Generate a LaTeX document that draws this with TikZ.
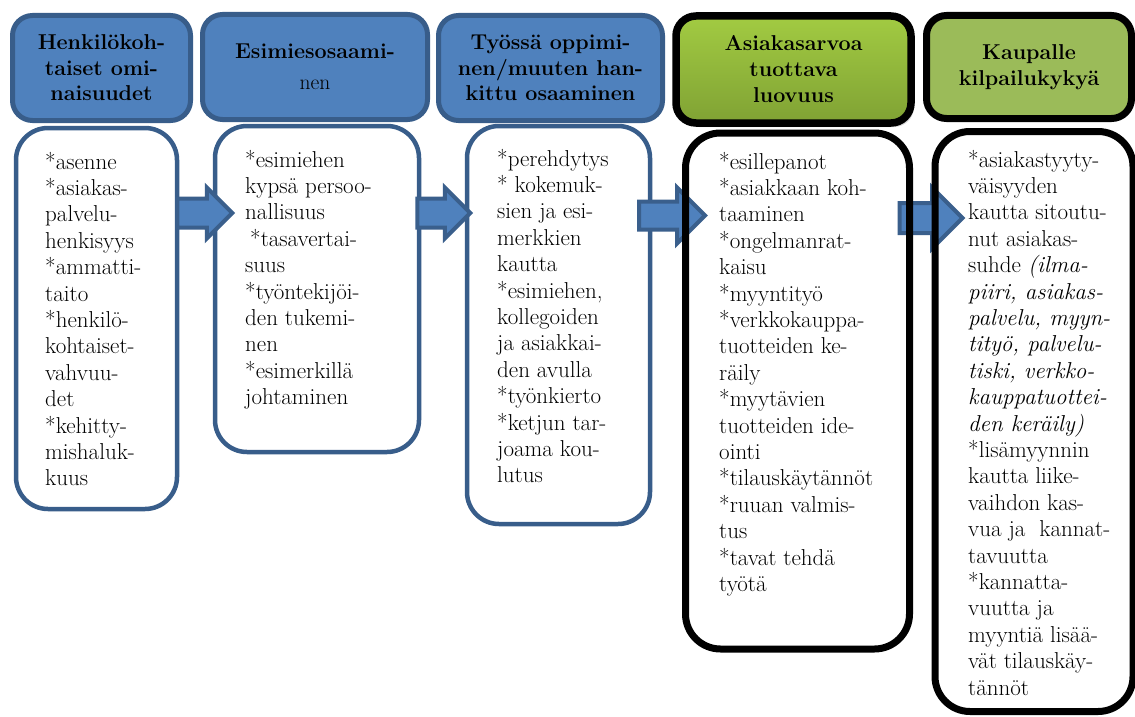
\documentclass[tikz,border=0pt]{standalone}
\usepackage{fontspec}
\usepackage{tikz}
\usetikzlibrary{shapes.arrows}
\usetikzlibrary{shadows}

\definecolor{hblue}{RGB}{79,129,189}
\definecolor{hborder}{RGB}{56,93,138}
\definecolor{aborder}{RGB}{58,95,140}
\definecolor{gtop}{RGB}{162,203,66}
\definecolor{gbot}{RGB}{128,162,52}
\definecolor{kgreen}{RGB}{155,187,89}

\tikzset{
  headbox/.style={draw=hborder, fill=hblue, line width=5, rounded corners=20,
    inner sep=0, align=center, font=\fontsize{21.5}{25.5}\selectfont\bfseries},
  greenbox/.style={draw=black, line width=7.5, rounded corners=20,
    inner sep=0, align=center, font=\fontsize{21.5}{26}\selectfont\bfseries},
  listbox/.style={draw=hborder, line width=4.5, rounded corners=32, inner sep=0},
  blackbox/.style={draw=black, line width=7, rounded corners=35, inner sep=0},
  listtext/.style={anchor=north west, inner sep=0, align=left,
    font=\fontsize{23}{26.4}\selectfont},
  blockarrow/.style={shape=single arrow, draw=aborder, fill=hblue, line width=4,
    single arrow tip angle=90, minimum width=0}
}

\begin{document}
\begin{tikzpicture}[x=1pt,y=-1pt]
          \fill [white] (0,0) rectangle (1135,717);
          \useasboundingbox (0,0) rectangle (1135,717);

          % Headers
          \node [headbox, minimum width=178, minimum height=105] (h1) at (101.5,68)
            {Henkilökoh-\\taiset omi-\\naisuudet};
          \node [headbox, minimum width=225, minimum height=105] (h2) at (315,67)
            {Esimiesosaami-\\[5pt]\mdseries nen};
          \node [headbox, minimum width=224, minimum height=105] (h3) at (550.5,68)
            {Työssä oppimi-\\nen/muuten han-\\kittu osaaminen};

          % Lists
          \node [listbox, minimum width=161, minimum height=381] (l1) at (96.5,318.5) {};
          \node [listbox, minimum width=204, minimum height=326] (l2) at (317,289) {};
          \node [listbox, minimum width=183, minimum height=398] (l3) at (558.5,325) {};

          \node [listtext] (t1) at (45,151.7) {*asenne\\*asiakas-\\palvelu-\\henkisyys\\
            *ammatti-\\taito\\*henkilö-\\kohtaiset-\\vahvuu-\\det\\*kehitty-\\
            mishaluk-\\kuus};
          \node [listtext] (t2) at (245,149.7) {*esimiehen\\kypsä persoo-\\nallisuus\\
            \hspace*{5pt}*tasavertai-\\suus\\*työntekijöi-\\den tukemi-\\nen\\
            *esimerkillä\\johtaminen};
          \node [listtext] (t3) at (497,148.7) {*perehdytys\\* kokemuk-\\sien ja esi-\\
            merkkien\\kautta\\*esimiehen,\\kollegoiden\\ja asiakkai-\\den avulla\\
            *työnkierto\\*ketjun tar-\\joama kou-\\lutus};
          \node [listtext] (t4) at (719,151.7) {*esillepanot\\*asiakkaan koh-\\taaminen\\
            *ongelmanrat-\\kaisu\\*myyntityö\\*verkkokauppa-\\tuotteiden ke-\\räily\\
            *myytävien\\tuotteiden ide-\\ointi\\*tilauskäytännöt\\*ruuan valmis-\\tus\\
            *tavat tehdä\\työtä};
          \node [listtext] (t5) at (968,149.7) {*asiakastyyty-\\väisyyden\\
            kautta sitoutu-\\nut asiakas-\\suhde \textit{(ilma-}\\
            \textit{piiri, asiakas-}\\\textit{palvelu, myyn-}\\\textit{tityö, palvelu-}\\
            \textit{tiski, verkko-}\\\textit{kauppatuottei-}\\\textit{den keräily)}\\
            *lisämyynnin\\kautta liike-\\vaihdon kas-\\vua ja \ kannat-\\tavuutta\\
            *kannatta-\\vuutta ja\\myyntiä lisää-\\vät tilauskäy-\\tännöt};

          % Arrows
          \node [blockarrow, inner sep=12.5, minimum height=55,
            single arrow head extend=11] (a1) at (197.5,213) {};
          \node [blockarrow, inner sep=12.5, minimum height=53,
            single arrow head extend=11] (a2) at (436.5,213) {};
          \node [blockarrow, inner sep=12, minimum height=66,
            single arrow head extend=14] (a3) at (665,215.5) {};
          \node [blockarrow, inner sep=13, minimum height=63,
            single arrow head extend=15.5] (a4) at (923.5,218) {};

          % Green headers and black lists
          \node [greenbox, top color=gtop, bottom color=gbot,
            drop shadow={shadow xshift=3pt, shadow yshift=-4pt, opacity=0.3},
            minimum width=235, minimum height=107] (h4) at (793.5,69.5)
            {Asiakasarvoa\\tuottava\\luovuus};
          \node [greenbox, fill=kgreen, line width=7, minimum width=205,
            minimum height=103] (h5) at (1029,67) {Kaupalle\\kilpailukykyä};
          \node [blackbox, minimum width=224, minimum height=516] (l4) at (797.5,391) {};
          \node [blackbox, minimum width=198, minimum height=580] (l5) at (1034,421.5) {};
        \end{tikzpicture}
\end{document}
